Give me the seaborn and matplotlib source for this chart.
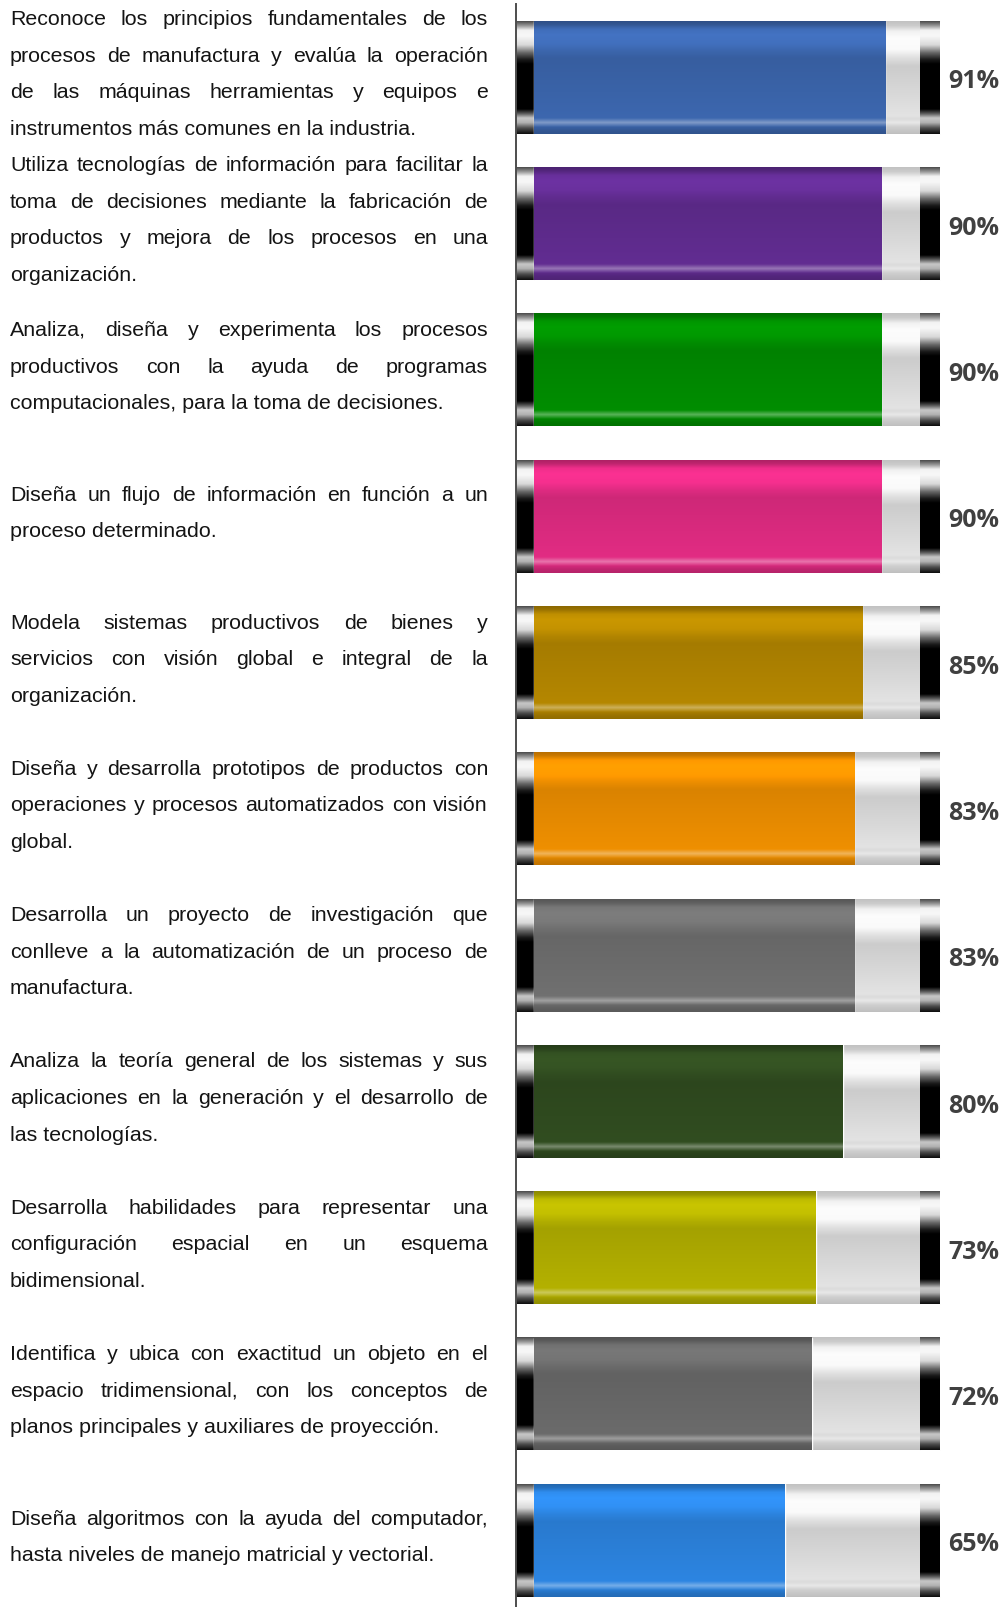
import matplotlib
matplotlib.use("Agg")
import matplotlib.pyplot as plt
import matplotlib.transforms as mtransforms
import numpy as np
import pandas as pd
import seaborn as sns

# ── Datos ────────────────────────────────────────────────────────────

competencias = [
    ["Reconoce los principios fundamentales de los",
     "procesos de manufactura y evalúa la operación",
     "de las máquinas herramientas y equipos e",
     "instrumentos más comunes en la industria."],
    ["Utiliza tecnologías de información para facilitar la",
     "toma de decisiones mediante la fabricación de",
     "productos y mejora de los procesos en una",
     "organización."],
    ["Analiza, diseña y experimenta los procesos",
     "productivos con la ayuda de programas",
     "computacionales, para la toma de decisiones."],
    ["Diseña un flujo de información en función a un",
     "proceso determinado."],
    ["Modela sistemas productivos de bienes y",
     "servicios con visión global e integral de la",
     "organización."],
    ["Diseña y desarrolla prototipos de productos con",
     "operaciones y procesos automatizados con visión",
     "global."],
    ["Desarrolla un proyecto de investigación que",
     "conlleve a la automatización de un proceso de",
     "manufactura."],
    ["Analiza la teoría general de los sistemas y sus",
     "aplicaciones en la generación y el desarrollo de",
     "las tecnologías."],
    ["Desarrolla habilidades para representar una",
     "configuración espacial en un esquema",
     "bidimensional."],
    ["Identifica y ubica con exactitud un objeto en el",
     "espacio tridimensional, con los conceptos de",
     "planos principales y auxiliares de proyección."],
    ["Diseña algoritmos con la ayuda del computador,",
     "hasta niveles de manejo matricial y vectorial."],
]
porcentajes = [91, 90, 90, 90, 85, 83, 83, 80, 73, 72, 65]
colores = ["#3a63a8", "#5e2b8c", "#008800", "#d92a7e", "#ae8200", "#e68a00",
           "#6c6c6c", "#2f4a1f", "#adaa00", "#676767", "#2b80d9"]
ids = [f"C{i + 1}" for i in range(len(porcentajes))]

df = pd.DataFrame({"id": ids, "valor": porcentajes})

# ── Perfiles de brillo (de arriba a abajo) ───────────────────────────

T_FILL = [0.00, 0.03, 0.07, 0.12, 0.20, 0.27, 0.33, 0.45, 0.86, 0.93, 0.97, 1.00]
K_FILL = [0.80, 0.88, 1.10, 1.16, 1.13, 1.02, 0.95, 0.97, 1.04, 1.00, 0.88, 0.84]
T_SHINE = [0.00, 0.86, 0.885, 0.90, 0.915, 0.94, 1.00]
W_SHINE = [0.00, 0.00, 0.22, 0.35, 0.22, 0.00, 0.00]
T_BACK = [0.00, 0.04, 0.09, 0.15, 0.25, 0.33, 0.40, 0.60, 0.84, 0.87, 0.90, 0.94, 1.00]
G_BACK = [0.76, 0.80, 0.95, 0.99, 0.98, 0.87, 0.80, 0.84, 0.89, 0.86, 0.91, 0.81, 0.75]
T_CAP = [0.00, 0.04, 0.08, 0.13, 0.21, 0.28, 0.34, 0.38, 0.78, 0.82, 0.86, 0.90, 0.95, 1.00]
G_CAP = [0.30, 0.60, 0.95, 0.97, 0.85, 0.40, 0.10, 0.00, 0.00, 0.35, 0.78, 0.70, 0.30, 0.05]

N_GRAD = 220


def grad_color(hex_color):
    t = np.linspace(0, 1, N_GRAD)
    k = np.interp(t, T_FILL, K_FILL)
    w = np.interp(t, T_SHINE, W_SHINE)[:, None]
    rgb = np.array(matplotlib.colors.to_rgb(hex_color))
    img = np.clip(rgb[None, :] * k[:, None], 0, 1)
    img = img * (1 - w) + w
    return np.clip(img, 0, 1)[:, None, :]


def grad_gray(tp, gp):
    t = np.linspace(0, 1, N_GRAD)
    g = np.interp(t, tp, gp)
    return np.repeat(g[:, None], 3, axis=1)[:, None, :]


def paint(ax, patch, img):
    x0, y0 = patch.get_x(), patch.get_y()
    x1, y1 = x0 + patch.get_width(), y0 + patch.get_height()
    ax.imshow(img, extent=(x0, x1, y1, y0), origin="upper", aspect="auto",
              interpolation="bilinear", zorder=patch.get_zorder() + 0.1)


# ── Figura ───────────────────────────────────────────────────────────

sns.set_style("white")
plt.rcParams["font.family"] = ["Liberation Sans", "DejaVu Sans"]

W, H = 1008, 1608
AX_X = 516           # eje vertical (px)
ZERO_X = 534         # 0 % (px)
PX = 3.86            # pixeles por punto porcentual
PITCH = 146.3        # pixeles por fila
FIRST = 78.3         # centro de la primera barra (px)
TOP = 5
BAR_H = 0.772
LEFT_CAP = (ZERO_X - AX_X) / PX
RIGHT_CAP = 20 / PX

fig = plt.figure(figsize=(W / 100, H / 100), dpi=100)
ax = fig.add_axes([AX_X / W, 0, (W - AX_X) / W, (H - TOP) / H])

sns.barplot(x=[100] * len(ids), y=ids, orient="h", color="#dddddd",
            width=BAR_H, ax=ax, zorder=1)
n_back = len(ax.patches)
sns.barplot(data=df, x="valor", y="id", hue="id", orient="h",
            palette=dict(zip(ids, colores)), legend=False, width=BAR_H,
            ax=ax, zorder=2)

rows = np.arange(len(ids))
caps_l = ax.barh(rows, LEFT_CAP, left=-LEFT_CAP, height=BAR_H, color="black", zorder=1)
caps_r = ax.barh(rows, RIGHT_CAP, left=100, height=BAR_H, color="black", zorder=1)

back_img = grad_gray(T_BACK, G_BACK)
cap_img = grad_gray(T_CAP, G_CAP)
for k, p in enumerate(list(ax.patches)):
    if k < n_back:
        paint(ax, p, back_img)
    elif p in caps_l.patches or p in caps_r.patches:
        paint(ax, p, cap_img)
    else:
        row = int(round(p.get_y() + p.get_height() / 2))
        paint(ax, p, grad_color(colores[row]))

ax.set_xlim(-LEFT_CAP, (W - ZERO_X) / PX)
ax.set_ylim(len(ids) - 1 + (H - FIRST - (len(ids) - 1) * PITCH) / PITCH,
            -(FIRST - TOP) / PITCH)
ax.set_xlabel("")
ax.set_ylabel("")
ax.set_xticks([])
ax.set_yticks([])
for s in ("top", "right", "bottom"):
    ax.spines[s].set_visible(False)
ax.spines["left"].set_color("#4d4d4d")
ax.spines["left"].set_linewidth(1.4)
ax.spines["left"].set_zorder(5)

for i, v in enumerate(porcentajes):
    ax.text((948 - ZERO_X) / PX, i + 0.025, f"{v}%", ha="left", va="center",
            fontsize=18, fontweight="bold", color="#404040",
            family=["Open Sans", "DejaVu Sans"])

# ── Texto justificado a la izquierda ─────────────────────────────────

trans = mtransforms.blended_transform_factory(fig.transFigure, ax.transData)
renderer = fig.canvas.get_renderer()
X0, X1 = 10, 488
LINE_GAP = 0.25
SHIFT = 0.011
style = dict(fontsize=15.4, color="#141414", va="baseline", ha="left", transform=trans)

for i, lines in enumerate(competencias):
    n = len(lines)
    for j, line in enumerate(lines):
        y = i + SHIFT + (j - (n - 1) / 2) * LINE_GAP
        words = line.split()
        if j == n - 1 or len(words) == 1:
            ax.text(X0 / W, y, line, **style)
            continue
        objs = [ax.text(0, y, w, **style) for w in words]
        widths = [o.get_window_extent(renderer).width for o in objs]
        gap = (X1 - X0 - sum(widths)) / (len(words) - 1)
        x = X0
        for o, wd in zip(objs, widths):
            o.set_x(x / W)
            x += wd + gap

fig.savefig("out.png", dpi=100)
